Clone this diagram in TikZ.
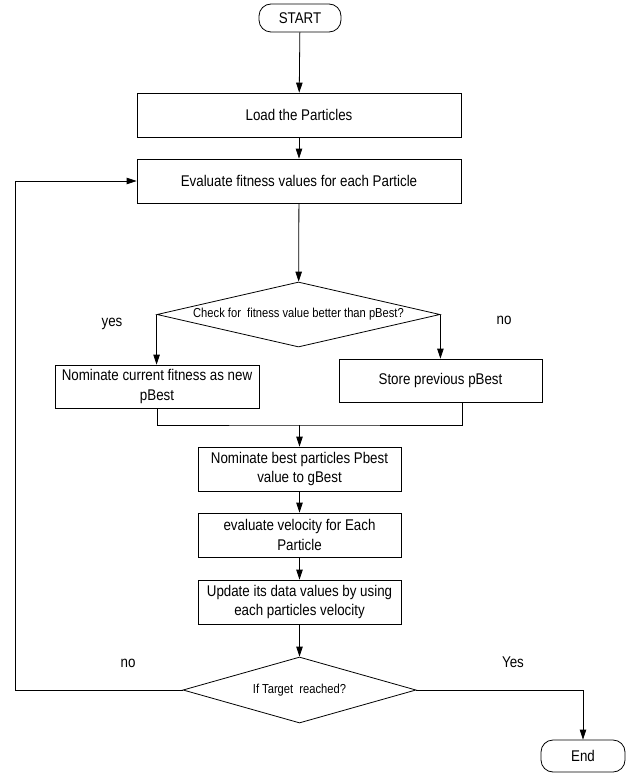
\documentclass[tikz,border=0pt]{standalone}
\usepackage{fontspec}
\setmainfont{Liberation Sans}[FakeStretch=0.86]
\usetikzlibrary{arrows.meta,shapes.geometric}

\tikzset{
  base/.style={draw=black, line width=0.8pt, inner sep=2pt, align=center,
               font=\fontsize{15.5}{19.5}\selectfont},
  procbox/.style={base, rectangle, minimum height=44pt},
  termbox/.style={base, rectangle, rounded corners=12pt, minimum width=82pt},
  decision/.style={base, diamond, inner sep=0pt,
                   font=\fontsize{13}{15}\selectfont},
  flow/.style={line width=0.8pt, -{Triangle[length=10pt,width=6.5pt]}},
  link/.style={line width=0.8pt},
  tag/.style={font=\fontsize{15.5}{18}\selectfont, inner sep=0pt}
}

\begin{document}
\begin{tikzpicture}[x=1pt,y=-1pt]
  \useasboundingbox (0,0) rectangle (626,773);

  % main column
  \node[termbox, minimum height=28pt] (start) at (300,18) {START};
  \node[procbox, minimum width=324pt] (load) at (299,115) {Load the Particles};
  \node[procbox, minimum width=324pt] (eval) at (299,181) {Evaluate fitness values for each Particle};
  \node[decision, shape aspect=4.35, minimum width=283pt, minimum height=65pt] (check) at (298.5,314.5)
       {Check for\ \ fitness value better than pBest?};

  % the two branches
  \node[procbox, minimum width=204pt, minimum height=43pt] (newbest) at (157,386.5)
       {Nominate current fitness as new\\pBest};
  \node[procbox, minimum width=203pt, minimum height=43pt] (keep) at (440.5,380.5)
       {Store previous pBest};

  \node[procbox, minimum width=203pt] (gbest) at (299.5,469)
       {Nominate best particles Pbest\\value to gBest};
  \node[procbox, minimum width=203pt] (velo) at (299.5,535)
       {evaluate velocity for Each\\Particle};
  \node[procbox, minimum width=203pt] (upd) at (299.5,602)
       {Update its data values by using\\each particles velocity};
  \node[decision, shape aspect=3.53, minimum width=233pt, minimum height=66pt] (target) at (299.5,690)
       {If Target\ \ reached?};
  \node[termbox, minimum width=84pt, minimum height=32pt] (stop) at (583,756) {End};

  % helper points
  \coordinate (join) at (299.5,425);
  \coordinate (keepout) at (462,402);
  \coordinate (loop) at (15,690);

  % connectors
  \draw[flow] (start) -- (load);
  \draw[flow] (load) -- (eval);
  \draw[flow] (eval) -- (check);
  \draw[flow] (check.west) -- (check.west |- newbest.north);
  \draw[flow] (check.east) -- (check.east |- keep.north);
  \draw[link] (newbest.south) |- (join) -| (keepout);
  \draw[flow] (join) -- (gbest);
  \draw[flow] (gbest) -- (velo);
  \draw[flow] (velo) -- (upd);
  \draw[flow] (upd) -- (target);
  \draw[flow] (target.east) -| (stop.north);
  \draw[flow] (target.west) -- (loop) |- (eval.west);

  % branch labels
  \node[tag] (lyes) at (112,324) {yes};
  \node[tag] (lno) at (504,320) {no};
  \node[tag] (lno2) at (128,663) {no};
  \node[tag] (lyes2) at (513,662) {Yes};
\end{tikzpicture}
\end{document}
